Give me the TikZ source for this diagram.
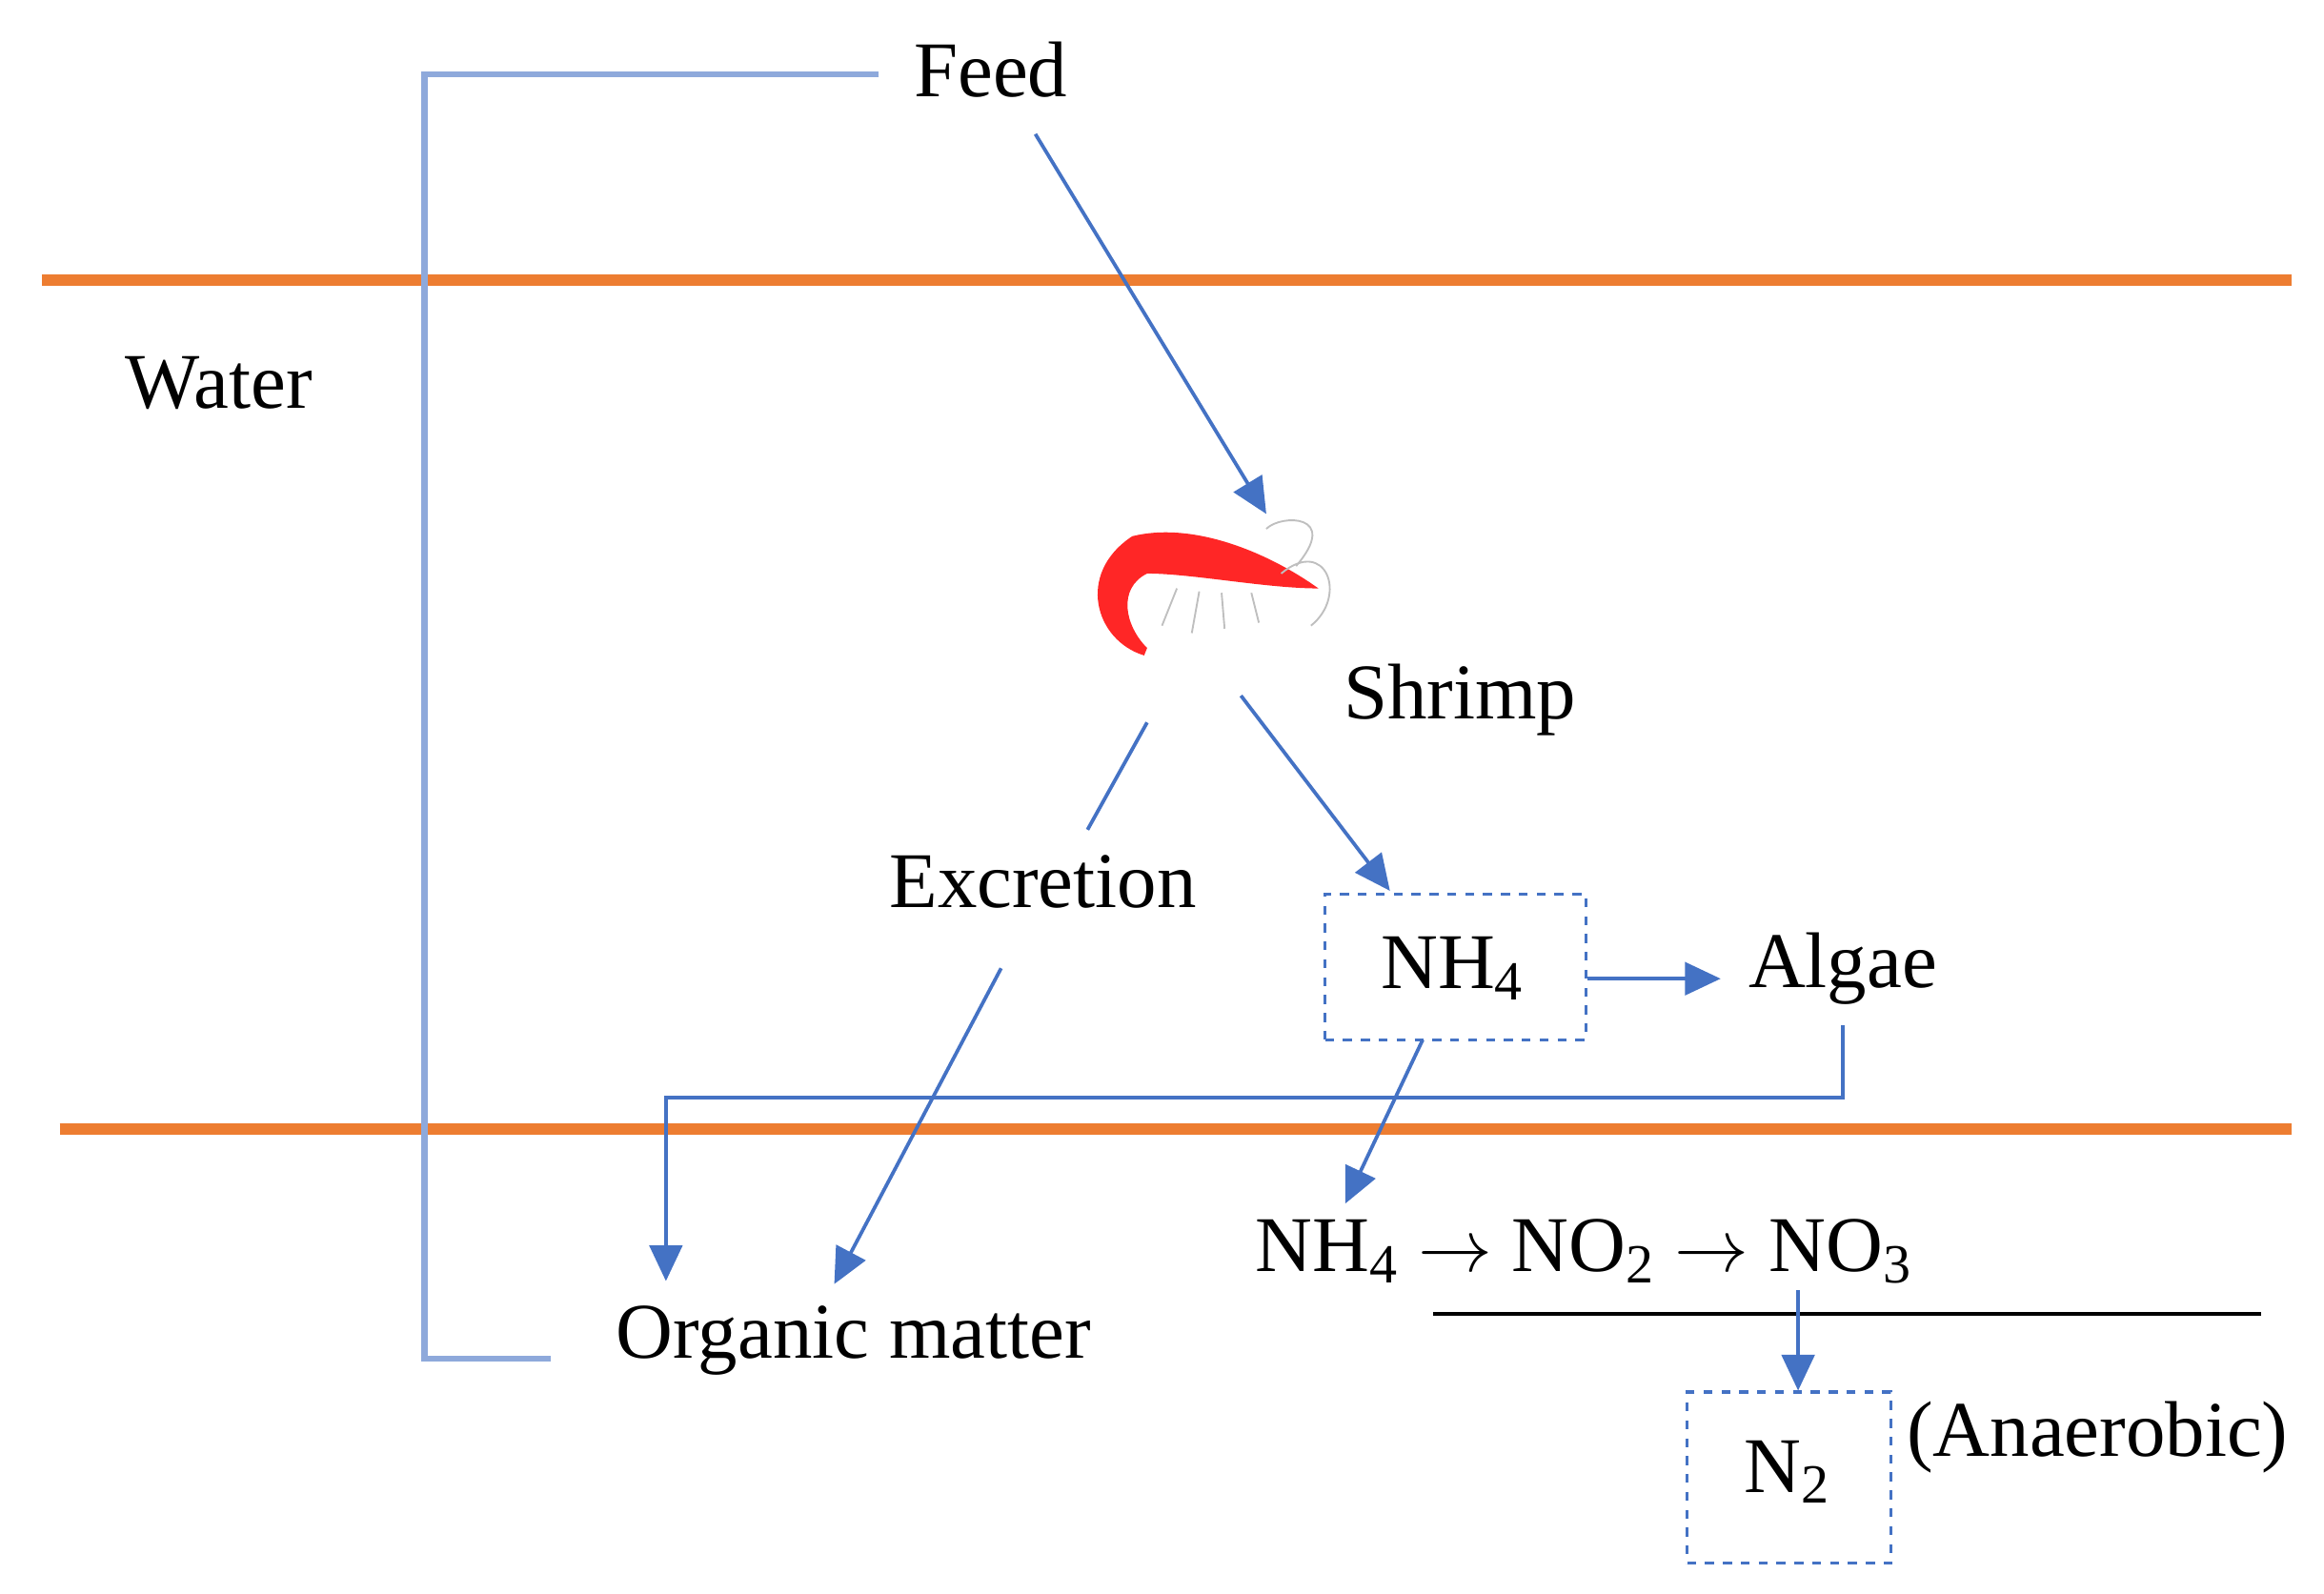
\documentclass[tikz,border=0pt]{standalone}
\usepackage{fontspec}
\setmainfont{Liberation Serif}
\usetikzlibrary{arrows.meta}
\definecolor{bl}{HTML}{4472C4}
\definecolor{lb}{HTML}{8EA9DB}
\definecolor{og}{HTML}{ED7D31}
\begin{document}
\begin{tikzpicture}[x=0.5pt,y=-0.5pt,
  lbl/.style={font=\fontsize{26.5}{30}\selectfont,inner sep=0},
  arr/.style={bl,line width=1.2pt,-{Triangle[width=11pt,length=12pt]}},
  ln/.style={bl,line width=1.2pt},
  box/.style={draw=bl,dashed,line width=1pt,inner sep=0}]
\useasboundingbox (0,0) rectangle (1560,1070);
\draw[og,line width=4pt] (28,188) -- (1538,188);
\draw[og,line width=4pt] (40,758) -- (1538,758);
\node[lbl] (feed) at (665,47) {Feed};
\node[lbl] (water) at (147,257) {Water};
\node[lbl] (shrimpl) at (980,470) {Shrimp};
\node[lbl] (exc) at (700,592) {Excretion};
\node[box,minimum width=87.5pt,minimum height=49pt] (nh4b) at (977,649) {};
\node[lbl] (nh4) at (975,650) {NH\textsubscript{4}};
\node[lbl] (algae) at (1237,650) {Algae};
\node[lbl] (chain) at (1063,840) {NH\textsubscript{4} $\rightarrow$ NO\textsubscript{2} $\rightarrow$ NO\textsubscript{3}};
\node[box,minimum width=68.5pt,minimum height=57.5pt] (n2b) at (1201,992) {};
\node[lbl] (n2) at (1200,988) {N\textsubscript{2}};
\node[lbl] (ana) at (1408,965) {(Anaerobic)};
\node[lbl] (org) at (573,900) {Organic matter};
% shrimp
\node (shrimp) at (815,395) {};
\fill[red!85!white] (768,440) .. controls (735,430) and (722,385) .. (760,360)
  .. controls (800,350) and (850,370) .. (885,395)
  .. controls (850,395) and (800,385) .. (770,385)
  .. controls (750,395) and (755,420) .. (770,435) -- cycle;
\draw[gray!50,line width=0.6pt] (790,395) -- (780,420) (805,397) -- (800,425) (820,398) -- (822,422)
  (840,398) -- (845,418) (860,385) .. controls (890,360) and (905,400) .. (880,420)
  (870,380) .. controls (900,345) and (860,345) .. (850,355);
% connectors
\coordinate (b1) at (590,50); \coordinate (b2) at (285,50);
\coordinate (b3) at (285,912); \coordinate (b4) at (370,912);
\draw[lb,line width=2pt] (b1) -- (b2) -- (b3) -- (b4);
\coordinate (f1) at (695,90); \coordinate (f2) at (850,345);
\draw[arr] (f1) -- (f2);
\coordinate (e1) at (770,485); \coordinate (e2) at (730,557);
\draw[ln] (e1) -- (e2);
\coordinate (e3) at (672,650); \coordinate (e4) at (560,862);
\draw[arr] (e3) -- (e4);
\coordinate (s1) at (833,467); \coordinate (s2) at (933,598);
\draw[arr] (s1) -- (s2);
\coordinate (g1) at (1155,657);
\draw[arr] (nh4b.east |- g1) -- (g1);
\coordinate (a1) at (1237,688); \coordinate (a2) at (1237,737);
\coordinate (a3) at (447,737); \coordinate (a4) at (447,860);
\draw[arr] (a1) -- (a2) -- (a3) -- (a4);
\coordinate (n1) at (955,698); \coordinate (n2e) at (903,808);
\draw[arr] (n1) -- (n2e);
\coordinate (k1) at (962,882); \coordinate (k2) at (1518,882);
\draw[black,line width=1.2pt] (k1) -- (k2);
\coordinate (d1) at (1207,866);
\draw[arr] (d1) -- (n2b.north -| d1);
\end{tikzpicture}
\end{document}
